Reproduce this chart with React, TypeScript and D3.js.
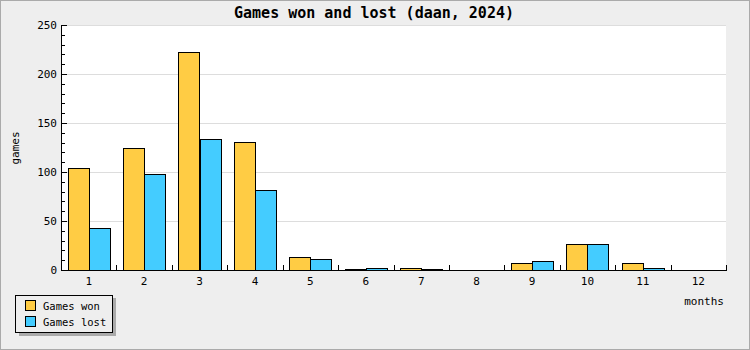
import React from "react";
import * as d3 from "d3";

const months = ["1", "2", "3", "4", "5", "6", "7", "8", "9", "10", "11", "12"];
const gamesWon = [104, 125, 222, 131, 13, 1, 2, 0, 7, 27, 7, 0];
const gamesLost = [43, 98, 134, 82, 11, 2, 1, 0, 9, 27, 2, 0];
const yTicks = [0, 50, 100, 150, 200, 250];
const seriesNames = ["Games won", "Games lost"];
const seriesColors = ["#ffcc44", "#44ccff"];

const W = 750;
const H = 350;
const L = 61;
const R = 726;
const T = 25;
const B = 270;
const FONT = "'DejaVu Sans Mono', monospace";

export default function App() {
  const x = d3.scaleBand<string>().domain(months).range([L, R]).paddingInner(0).paddingOuter(0);
  const y = d3.scaleLinear().domain([0, 250]).range([B, T]);
  const groupW = x.bandwidth() * 0.76;
  const barW = groupW / 2;
  const minor = d3.range(0, 251, 10);
  const series = [gamesWon, gamesLost];

  return (
    <svg
      width={W}
      height={H}
      style={{ position: "absolute", left: 0, top: 0, display: "block" }}
      shapeRendering="crispEdges"
    >
      <rect x={0.5} y={0.5} width={W - 1} height={H - 1} fill="#eeeeee" stroke="#aaaaaa" />
      <rect x={L} y={T} width={R - L} height={B - T} fill="#ffffff" />
      {yTicks.filter((t) => t > 0).map((t) => (
        <line key={"g" + t} x1={L} x2={R} y1={Math.round(y(t)) + 0.5} y2={Math.round(y(t)) + 0.5} stroke="#dddddd" />
      ))}
      {months.map((m, i) =>
        series.map((s, k) => {
          const x0 = (x(m) as number) + (x.bandwidth() - groupW) / 2 + k * barW;
          const top = y(s[i]);
          return (
            <rect
              key={m + "-" + k}
              x={Math.round(x0) + 0.5}
              y={Math.round(top) + 0.5}
              width={Math.round(barW)}
              height={Math.max(0, B - Math.round(top))}
              fill={seriesColors[k]}
              stroke="#000"
            />
          );
        })
      )}
      {/* y axis */}
      <line x1={L + 0.5} x2={L + 0.5} y1={T} y2={B + 1} stroke="#000" />
      {minor.map((t) => (
        <line
          key={"m" + t}
          x1={L}
          x2={L + (t % 50 === 0 ? 6 : 4)}
          y1={Math.round(y(t)) + 0.5}
          y2={Math.round(y(t)) + 0.5}
          stroke="#000"
        />
      ))}
      {yTicks.map((t) => (
        <text key={"yl" + t} x={57} y={y(t) + 4} textAnchor="end" fontFamily={FONT} fontSize={11} fill="#000">
          {t}
        </text>
      ))}
      {/* x axis */}
      <line x1={L} x2={R + 1} y1={B + 0.5} y2={B + 0.5} stroke="#000" />
      {months.map((m, i) => {
        const bx = Math.round((x(m) as number) + x.bandwidth());
        return i < months.length ? (
          <line key={"xt" + m} x1={bx + 0.5} x2={bx + 0.5} y1={B - 5} y2={B} stroke="#000" />
        ) : null;
      })}
      {months.map((m) => (
        <text
          key={"xl" + m}
          x={(x(m) as number) + x.bandwidth() / 2}
          y={285}
          textAnchor="middle"
          fontFamily={FONT}
          fontSize={11}
          fill="#000"
        >
          {m}
        </text>
      ))}
      {/* titles */}
      <text x={374} y={18} textAnchor="middle" fontFamily={FONT} fontWeight="bold" fontSize={15} fill="#000">
        Games won and lost (daan, 2024)
      </text>
      <text x={724} y={305} textAnchor="end" fontFamily={FONT} fontSize={11} fill="#000">
        months
      </text>
      <text
        transform="translate(19,148) rotate(-90)"
        textAnchor="middle"
        fontFamily={FONT}
        fontSize={11}
        fill="#000"
      >
        games
      </text>
      {/* legend */}
      <rect x={19} y={298} width={97} height={38} fill="#aaaaaa" />
      <rect x={15.5} y={295.5} width={97} height={37} fill="#eeeeee" stroke="#000" />
      {seriesNames.map((n, k) => (
        <g key={n}>
          <rect x={25.5} y={300.5 + k * 16} width={10} height={10} fill={seriesColors[k]} stroke="#000" />
          <text x={43} y={310 + k * 16} fontFamily={FONT} fontSize={10.5} fill="#000">
            {n}
          </text>
        </g>
      ))}
    </svg>
  );
}
